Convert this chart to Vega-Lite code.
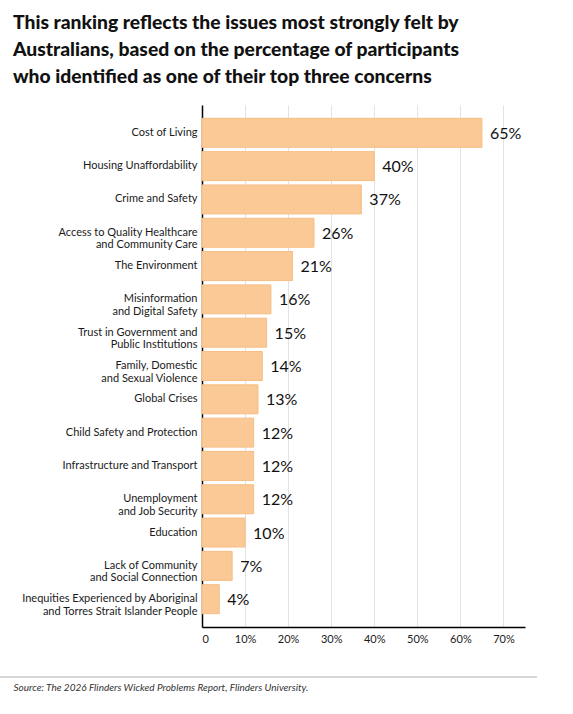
{
  "$schema": "https://vega.github.io/schema/vega-lite/v6.json",
  "width": 323,
  "height": 522,
  "autosize": {"type": "none"},
  "padding": {"left": 202, "top": 105, "right": 48, "bottom": 87},
  "background": "white",
  "config": {"view": {"stroke": null}, "font": "Lato"},
  "title": {
    "text": ["This ranking reflects the issues most strongly felt by", "Australians, based on the percentage of participants", "who identified as one of their top three concerns"],
    "anchor": "start",
    "frame": "group",
    "dx": -189,
    "offset": 18,
    "font": "Lato",
    "fontSize": 19.3,
    "fontWeight": 900,
    "color": "#111111",
    "lineHeight": 27
  },
  "data": {
    "values": [
      {"issue": "Cost of Living", "value": 0.65},
      {"issue": "Housing Unaffordability", "value": 0.40},
      {"issue": "Crime and Safety", "value": 0.37},
      {"issue": "Access to Quality Healthcare|and Community Care", "value": 0.26},
      {"issue": "The Environment", "value": 0.21},
      {"issue": "Misinformation|and Digital Safety", "value": 0.16},
      {"issue": "Trust in Government and|Public Institutions", "value": 0.15},
      {"issue": "Family, Domestic|and Sexual Violence", "value": 0.14},
      {"issue": "Global Crises", "value": 0.13},
      {"issue": "Child Safety and Protection", "value": 0.12},
      {"issue": "Infrastructure and Transport", "value": 0.12},
      {"issue": "Unemployment|and Job Security", "value": 0.12},
      {"issue": "Education", "value": 0.10},
      {"issue": "Lack of Community|and Social Connection", "value": 0.07},
      {"issue": "Inequities Experienced by Aboriginal|and Torres Strait Islander People", "value": 0.04}
    ]
  },
  "layer": [
    {
      "encoding": {
        "x": {
          "field": "value",
          "type": "quantitative",
          "scale": {"domain": [0, 0.75], "nice": false},
          "axis": {
            "values": [0, 0.1, 0.2, 0.3, 0.4, 0.5, 0.6, 0.7],
            "format": ".0%",
            "labelExpr": "datum.value === 0 ? '0' : datum.label",
            "labelFont": "Lato",
            "labelFontSize": 11,
            "labelColor": "#1a1a1a",
            "labelPadding": 6,
            "ticks": false,
            "grid": true,
            "gridColor": "#e3e3e3",
            "gridWidth": 1,
            "domain": true,
            "domainColor": "#000000",
            "domainWidth": 1.5,
            "title": "Source: The 2026 Flinders Wicked Problems Report, Flinders University.",
            "titleFont": "Lato",
            "titleFontStyle": "italic",
            "titleFontWeight": "normal",
            "titleFontSize": 10,
            "titleColor": "#333333",
            "titleAnchor": "start",
            "titleAlign": "left",
            "titleBaseline": "alphabetic",
            "titleX": -189,
            "titleY": 63
          }
        },
        "y": {
          "field": "issue",
          "type": "nominal",
          "sort": null,
          "scale": {"paddingInner": 0.13, "paddingOuter": 0.4},
          "axis": {
            "title": null,
            "labelExpr": "split(datum.label, '|')",
            "labelFont": "Lato",
            "labelFontSize": 11,
            "labelLineHeight": 12.5,
            "labelColor": "#1a1a1a",
            "labelPadding": 5,
            "labelLimit": 300,
            "ticks": false,
            "domain": true,
            "domainColor": "#000000",
            "domainWidth": 1.5
          }
        }
      },
      "layer": [
        {
          "mark": {"type": "bar", "color": "#fbc995", "stroke": "#f6bd84", "strokeWidth": 1}
        },
        {
          "mark": {"type": "text", "align": "left", "baseline": "middle", "dx": 8, "dy": 1, "fontSize": 16, "font": "Lato", "color": "#111111"},
          "encoding": {
            "text": {"field": "value", "type": "quantitative", "format": ".0%"}
          }
        }
      ]
    },
    {
      "data": {"values": [{"line": "source separator"}]},
      "mark": {"type": "rule", "color": "#c8c8c8", "strokeWidth": 1.5, "clip": false},
      "encoding": {
        "x": {"datum": -0.469, "type": "quantitative"},
        "x2": {"datum": 0.778},
        "y": {"datum": -0.0958, "type": "quantitative", "scale": {"domain": [0, 1], "nice": false, "zero": false}, "axis": null}
      }
    }
  ],
  "resolve": {"scale": {"y": "independent"}}
}
